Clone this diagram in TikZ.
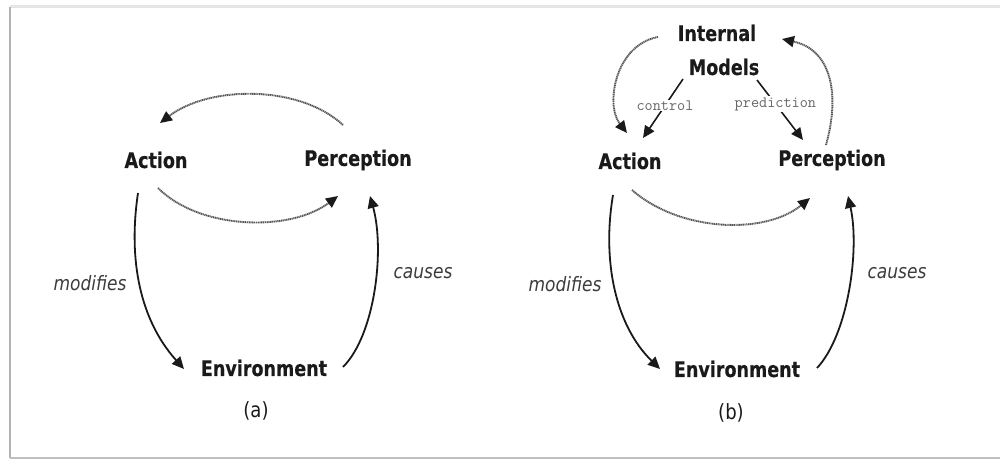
\documentclass[tikz,border=0pt]{standalone}
\usepackage{fontspec}
\newfontfamily\termf[FakeStretch=0.82,FakeBold=0.4]{DejaVu Sans}
\newfontfamily\djs[FakeStretch=0.86]{DejaVu Sans}
\usetikzlibrary{arrows.meta,calc}
\definecolor{ink}{HTML}{1A1A1A}
\definecolor{dotc}{HTML}{555555}
\tikzset{
  term/.style={text=ink,inner sep=0pt,font=\termf\bfseries\fontsize{21.4}{24}\selectfont},
  verb/.style={text=ink!85,inner sep=0pt,font=\djs\itshape\fontsize{19.8}{23}\selectfont},
  capt/.style={text=ink,inner sep=0pt,font=\djs\fontsize{21}{24}\selectfont},
  mono/.style={text=black!60,fill=white,inner sep=1pt,font=\ttfamily\fontsize{15.8}{18}\selectfont},
  tip/.style={-{Triangle[length=12pt,width=11pt,color=ink]}},
  solidarc/.style={tip,draw=ink,line width=1.8pt},
  dotarc/.style={tip,draw=dotc,line width=1.9pt,dash pattern=on 1.2pt off 0.6pt},
}
\begin{document}
\begin{tikzpicture}[x=1pt,y=-1pt]
\useasboundingbox (0,0) rectangle (1000,460);
% frame
\draw[black!10,line width=3pt] (10,7) -- (1000,7);
\draw[black!30,line width=2pt] (10,7) -- (10,458);
\draw[black!25,line width=2pt] (10,458) -- (1000,458);

% ---------- panel (a)
\node[term] (actA) at (156,160) {Action};
\node[term] (perA) at (358,160) {Perception};
\node[term] (envA) at (264,368) {Environment};
\node[capt] (capA) at (256,411) {(a)};
\node[verb] (modA) at (90,283) {modifies};
\node[verb] (cauA) at (423,273) {causes};

\draw[dotarc] ($(perA)+(-15,-35)$) .. controls (300,85) and (210,85) .. ($(actA)+(4,-37)$);
\draw[dotarc] ($(actA)+(2,28)$) .. controls (200,230) and (290,232) .. ($(perA)+(-20,36)$);
\draw[solidarc] ($(actA)+(-18,33)$) .. controls (128,260) and (140,320) .. ($(envA)+(-80,1)$);
\draw[solidarc] ($(envA)+(79,-1)$) .. controls (375,335) and (385,250) .. ($(perA)+(12,36)$);

% ---------- panel (b)
\node[term] (int) at (717,33) {Internal};
\node[term] (mdl) at (724,67) {Models};
\node[term] (actB) at (630,161) {Action};
\node[term] (perB) at (832,160) {Perception};
\node[term] (envB) at (737,369) {Environment};
\node[capt] (capB) at (731,413) {(b)};
\node[verb] (modB) at (565,284) {modifies};
\node[verb] (cauB) at (897,273) {causes};

\draw[dotarc] ($(int)+(-59,4)$) .. controls (615,45) and (605,105) .. ($(actB)+(-3,-28)$);
\draw[dotarc] ($(perB)+(-6,-15)$) .. controls (840,95) and (832,50) .. ($(int)+(65,6)$);
\draw[solidarc,line width=1.6pt] ($(mdl)+(-41,12)$) -- node[mono,pos=0.45] (ctl) {control} ($(actB)+(13,-23)$);
\draw[solidarc,line width=1.6pt] ($(mdl)+(33,13)$) -- node[mono,pos=0.40] (prd) {prediction} ($(perB)+(-29,-20)$);
\draw[dotarc] ($(actB)+(2,29)$) .. controls (680,232) and (765,235) .. ($(perB)+(-22,38)$);
\draw[solidarc] ($(actB)+(-17,34)$) .. controls (602,260) and (615,325) .. ($(envB)+(-77,0)$);
\draw[solidarc] ($(envB)+(80,-1)$) .. controls (848,335) and (860,250) .. ($(perB)+(16,36)$);
\end{tikzpicture}
\end{document}
